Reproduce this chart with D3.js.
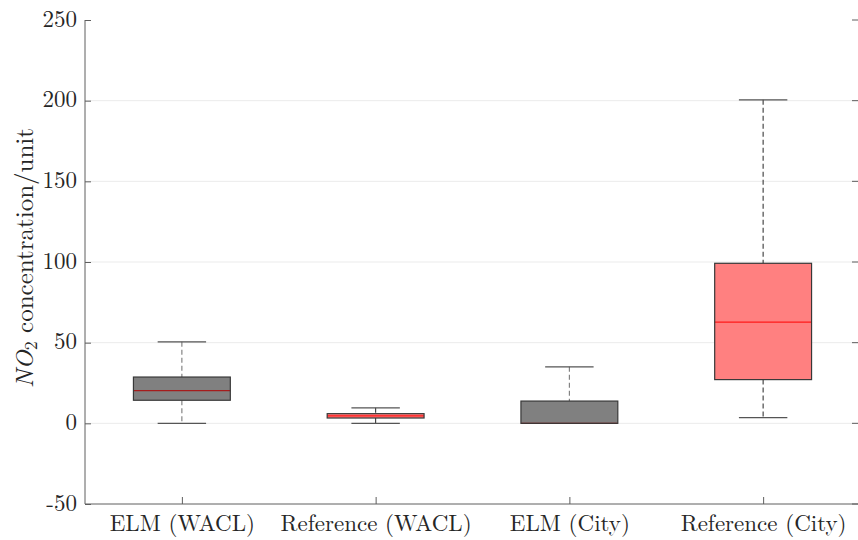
<!DOCTYPE html>
<html>
<head>
<meta charset="utf-8">
<script src="https://cdn.jsdelivr.net/npm/d3@7"></script>
<style>
  html, body { margin: 0; padding: 0; background: #ffffff; }
  svg { display: block; }
</style>
</head>
<body>
<svg id="chart" width="858" height="540"></svg>
<script>
// Box-plot summary statistics for each group
const categories = ["ELM (WACL)", "Reference (WACL)", "ELM (City)", "Reference (City)"];
const whiskerLow  = [0, 0, 0, 3.5];
const q1          = [14.3, 3.3, 0, 27.1];
const median      = [20.3, 4.6, 0, 62.7];
const q3          = [28.7, 6.0, 13.8, 99.2];
const whiskerHigh = [50.5, 9.6, 35, 200.5];
const groupType   = ["ELM", "Reference", "ELM", "Reference"];
const yTicks      = [-50, 0, 50, 100, 150, 200, 250];

const rows = categories.map((c, i) => ({
  cat: c, lo: whiskerLow[i], q1: q1[i], med: median[i], q3: q3[i], hi: whiskerHigh[i], type: groupType[i]
}));

const style = {
  ELM:       { fill: "#808080", stroke: "#383838", median: "#a51c1c", whisker: "#7a7a7a" },
  Reference: { fill: "#ff8080", stroke: "#383838", median: "#ff1a1a", whisker: "#383838" }
};

const FONT = '"Latin Modern Roman", "Liberation Serif", serif';
const TICK_FS = "23px";
const LABEL_FS = 25;

const svg = d3.select("#chart");
const plotLeft = 85, plotRight = 860, plotTop = 20, plotBottom = 504;

const x = d3.scalePoint().domain(categories).range([plotLeft, plotRight]).padding(0.5);
const y = d3.scaleLinear().domain([-50, 250]).range([plotBottom, plotTop]);
const step = x.step();
const boxW = step * 0.5;
const capW = step * 0.25;

// horizontal grid
svg.append("g")
  .selectAll("line")
  .data(yTicks.filter(t => t > -50 && t < 250))
  .join("line")
  .attr("x1", plotLeft).attr("x2", 858)
  .attr("y1", d => y(d)).attr("y2", d => y(d))
  .attr("stroke", "#ebebeb").attr("stroke-width", 1);

const box = svg.append("g").selectAll("g.box").data(rows).join("g").attr("class", "box");

// whisker stems (dashed)
box.append("line")
  .attr("x1", d => x(d.cat)).attr("x2", d => x(d.cat))
  .attr("y1", d => y(d.hi)).attr("y2", d => y(d.q3))
  .attr("stroke", d => style[d.type].whisker).attr("stroke-dasharray", "5,3").attr("stroke-width", 1.1);
box.append("line")
  .attr("x1", d => x(d.cat)).attr("x2", d => x(d.cat))
  .attr("y1", d => y(d.q1)).attr("y2", d => y(d.lo))
  .attr("stroke", d => style[d.type].whisker).attr("stroke-dasharray", "5,3").attr("stroke-width", 1.1);

// whisker caps
box.append("line")
  .attr("x1", d => x(d.cat) - capW / 2).attr("x2", d => x(d.cat) + capW / 2)
  .attr("y1", d => y(d.hi)).attr("y2", d => y(d.hi))
  .attr("stroke", "#555555").attr("stroke-width", 1.3);
box.append("line")
  .attr("x1", d => x(d.cat) - capW / 2).attr("x2", d => x(d.cat) + capW / 2)
  .attr("y1", d => y(d.lo)).attr("y2", d => y(d.lo))
  .attr("stroke", "#555555").attr("stroke-width", 1.3);

// interquartile box fill
box.append("rect")
  .attr("x", d => x(d.cat) - boxW / 2)
  .attr("width", boxW)
  .attr("y", d => y(d.q3))
  .attr("height", d => y(d.q1) - y(d.q3))
  .attr("fill", d => style[d.type].fill);

// medians
box.append("line")
  .attr("x1", d => x(d.cat) - boxW / 2).attr("x2", d => x(d.cat) + boxW / 2)
  .attr("y1", d => y(d.med)).attr("y2", d => y(d.med))
  .attr("stroke", d => style[d.type].median).attr("stroke-width", 1.2);

// box outline on top
box.append("rect")
  .attr("x", d => x(d.cat) - boxW / 2)
  .attr("width", boxW)
  .attr("y", d => y(d.q3))
  .attr("height", d => y(d.q1) - y(d.q3))
  .attr("fill", "none")
  .attr("stroke", d => style[d.type].stroke)
  .attr("stroke-width", 1.2);

// axes
const yAxis = d3.axisLeft(y).tickValues(yTicks).tickSize(-6).tickPadding(8).tickFormat(d => String(d));
const ya = svg.append("g").attr("transform", `translate(${plotLeft},0)`).call(yAxis);
ya.select(".domain").attr("stroke", "#5e5e5e").attr("d", `M0,${plotTop}V${plotBottom}`);
ya.selectAll(".tick line").attr("stroke", "#5e5e5e");
ya.selectAll(".tick text")
  .attr("fill", "#262626").attr("dy", "0.27em")
  .style("font-family", FONT).style("font-size", TICK_FS);

// right-side tick marks
svg.append("g").selectAll("line").data(yTicks).join("line")
  .attr("x1", 852).attr("x2", 858)
  .attr("y1", d => y(d)).attr("y2", d => y(d))
  .attr("stroke", "#5e5e5e");

const xAxis = d3.axisBottom(x).tickSize(-7).tickPadding(11);
const xa = svg.append("g").attr("transform", `translate(0,${plotBottom})`).call(xAxis);
xa.select(".domain").attr("stroke", "#5e5e5e").attr("d", `M${plotLeft},0H858`);
xa.selectAll(".tick line").attr("stroke", "#5e5e5e");
xa.selectAll(".tick text")
  .attr("fill", "#262626")
  .style("font-family", FONT).style("font-size", TICK_FS);

// y-axis title
const yt = svg.append("text")
  .attr("transform", `translate(33,${(plotTop + plotBottom) / 2 - 4}) rotate(-90)`)
  .attr("text-anchor", "middle")
  .attr("fill", "#262626")
  .style("font-family", FONT)
  .style("font-size", LABEL_FS + "px");
yt.append("tspan").style("font-style", "italic").text("NO");
yt.append("tspan").attr("dy", 4).style("font-size", Math.round(LABEL_FS * 0.7) + "px").text("2");
yt.append("tspan").attr("dy", -4).text(" concentration/unit");
</script>
</body>
</html>
